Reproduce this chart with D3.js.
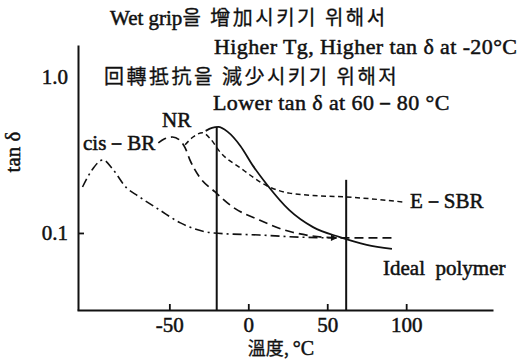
<!DOCTYPE html>
<html>
<head>
<meta charset="utf-8">
<script src="https://cdn.jsdelivr.net/npm/d3@7"></script>
<style>
  body { margin: 0; background: #fff; }
</style>
</head>
<body>
<div class="chart"></div>
<script>
// tan delta vs temperature
var cisBrTemp = [-105, -99, -92, -86, -77, -70, -56, -43, -22, 7, 33, 56];
var cisBrTan  = [0.197, 0.253, 0.294, 0.257, 0.194, 0.173, 0.140, 0.116, 0.100, 0.097, 0.094, 0.093];

var nrTemp = [-57, -53, -48, -43, -40, -37, -31, -21, -10, 7, 28, 58, 93];
var nrTan  = [0.378, 0.401, 0.412, 0.389, 0.351, 0.294, 0.229, 0.183, 0.147, 0.121, 0.101, 0.093, 0.093];

var esbrTemp = [-40, -35, -29, -24, -18, -5, 12, 26, 45, 62, 98];
var esbrTan  = [0.367, 0.412, 0.438, 0.401, 0.331, 0.261, 0.200, 0.180, 0.173, 0.170, 0.158];

var idealTemp = [-27, -23, -19, -13, -5, 3, 12, 26, 41, 58, 75, 91];
var idealTan  = [0.451, 0.471, 0.478, 0.444, 0.361, 0.269, 0.203, 0.140, 0.109, 0.094, 0.084, 0.079];

var markTemp = [-20, 62];
var markTop  = [0.478, 0.219];

var xTicks = [-50, 0, 50, 100];
var yTicks = [0.1, 1.0];

var zip = function(xs, ys) { return xs.map(function(x, i) { return [x, ys[i]]; }); };

var SERIF = "'Liberation Serif', 'Times New Roman', 'DejaVu Serif', serif";
var KR = "'Noto Sans CJK KR', 'Noto Sans CJK SC', sans-serif";

var width = 521, height = 359;

var svg = d3.select(".chart")
    .append("svg")
    .attr("width", width)
    .attr("height", height);

var xScale = d3.scaleLinear()
    .domain([-108.5, 155])
    .range([77, 493]);

var yScale = d3.scaleLog()
    .domain([0.0321, 1.60])
    .range([310, 45]);

// arrow on the cis-BR line
svg.append("defs").append("marker")
    .attr("id", "arrow")
    .attr("viewBox", "0 0 10 10")
    .attr("refX", 9).attr("refY", 5)
    .attr("markerWidth", 5).attr("markerHeight", 4)
    .attr("orient", "auto")
    .attr("markerUnits", "strokeWidth")
    .append("path")
    .attr("d", "M0,0L10,5L0,10Z")
    .attr("fill", "#111");

// axes
var xAxis = svg.append("g")
    .attr("transform", "translate(0,310)")
    .call(d3.axisBottom(xScale).tickValues(xTicks).tickSizeInner(-6).tickSizeOuter(0)
        .tickPadding(7).tickFormat(function(d) { return String(d); }));

var yAxis = svg.append("g")
    .attr("transform", "translate(78,0)")
    .call(d3.axisLeft(yScale).tickValues(yTicks).tickSizeInner(-6).tickSizeOuter(0)
        .tickPadding(10).tickFormat(d3.format(".1f")));

yAxis.selectAll(".tick").filter(function(d) { return d === 1; }).select("line").remove();

[xAxis, yAxis].forEach(function(a) {
    a.attr("font-family", null).attr("font-size", null);
    a.select(".domain").attr("stroke", "#111").attr("stroke-width", 2);
    a.selectAll(".tick line").attr("stroke", "#111").attr("stroke-width", 1.8);
    a.selectAll(".tick text")
        .style("font-family", SERIF)
        .style("font-size", "21px")
        .attr("fill", "#111")
        .attr("stroke", "#111").attr("stroke-width", 0.5);
});

// vertical marker lines
svg.selectAll(".mark")
    .data(zip(markTemp, markTop))
    .enter()
    .append("line")
    .attr("class", "mark")
    .attr("x1", function(d) { return xScale(d[0]); })
    .attr("x2", function(d) { return xScale(d[0]); })
    .attr("y1", 310)
    .attr("y2", function(d) { return yScale(d[1]); })
    .attr("stroke", "#111")
    .attr("stroke-width", 2);

var line = d3.line()
    .x(function(d) { return xScale(d[0]); })
    .y(function(d) { return yScale(d[1]); })
    .curve(d3.curveMonotoneX);

var series = [
    { pts: zip(cisBrTemp, cisBrTan), dash: "9,4,2,4", w: 1.6, arrow: true },
    { pts: zip(nrTemp, nrTan), dash: "9,5", w: 1.7 },
    { pts: zip(esbrTemp, esbrTan), dash: "5,3.5", w: 1.5 },
    { pts: zip(idealTemp, idealTan), dash: null, w: 1.8 }
];

series.forEach(function(s) {
    var p = svg.append("path")
        .datum(s.pts)
        .attr("d", line)
        .attr("fill", "none")
        .attr("stroke", "#111")
        .attr("stroke-width", s.w);
    if (s.dash) p.attr("stroke-dasharray", s.dash);
    if (s.arrow) p.attr("marker-end", "url(#arrow)");
});

// annotations: parts are [text, isKorean]
var label = function(x, y, parts, size, spacing) {
    var t = svg.append("text")
        .attr("x", x)
        .attr("y", y)
        .attr("fill", "#111")
        .attr("stroke", "#111")
        .style("white-space", "pre");
    parts.forEach(function(p) {
        t.append("tspan")
            .style("font-family", p[1] ? KR : SERIF)
            .style("font-size", p[1] ? "20px" : (size || 21) + "px")
            .style("letter-spacing", p[1] ? "2.5px" : (spacing || 0) + "px")
            .attr("stroke-width", p[1] ? 0.3 : 0.5)
            .text(p[0]);
    });
    return t;
};

label(110, 25, [["Wet grip"], ["을 增加시키기 위해서", true]]);
label(214, 54, [["Higher Tg, Higher tan δ at -20°C"]], 22, 0.4);
label(104, 84, [["回轉抵抗을 減少시키기 위해저", true]]);
label(213, 110, [["Lower tan δ at 60－80 °C"]], 22, 0.4);
label(83, 150, [["cis－BR"]]);
label(162, 127, [["NR"]]);
label(410, 208, [["E－SBR"]]);
label(383, 275, [["Ideal  polymer"]]);

svg.append("text")
    .attr("transform", "translate(20,152) rotate(-90)")
    .attr("text-anchor", "middle")
    .style("font-family", SERIF)
    .style("font-size", "21px")
    .attr("fill", "#111")
    .attr("stroke", "#111").attr("stroke-width", 0.5)
    .text("tan δ");

var xTitle = svg.append("text")
    .attr("x", 281)
    .attr("y", 355)
    .attr("text-anchor", "middle")
    .attr("fill", "#111")
    .attr("stroke", "#111");
xTitle.append("tspan")
    .style("font-family", KR).style("font-size", "18px")
    .attr("stroke-width", 0.3)
    .text("溫度, ");
xTitle.append("tspan")
    .style("font-family", SERIF).style("font-size", "20px")
    .attr("stroke-width", 0.5)
    .text("°C");
</script>
</body>
</html>
